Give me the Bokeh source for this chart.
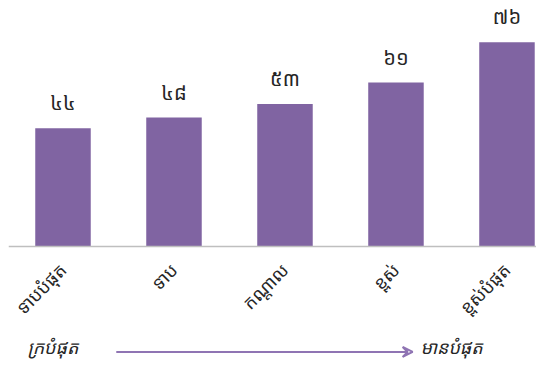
import math
from bokeh.plotting import figure
from bokeh.models import Range1d, FixedTicker, ColumnDataSource, Arrow, VeeHead, Label
from bokeh.core.properties import value
from bokeh.embed import file_html
from bokeh.resources import INLINE

categories = ["ទាបបំផុត", "ទាប", "កណ្តាល", "ខ្ពស់", "ខ្ពស់បំផុត"]
values = [44, 48, 53, 61, 76]
value_labels = ["៤៤", "៤៨", "៥៣", "៦១", "៧៦"]
poorest_label = "ក្របំផុត"
richest_label = "មានបំផុត"

FONT = "Noto Sans Khmer, Khmer OS, Noto Sans, sans-serif"
BAR = "#8064A2"
TXT = "#262626"

xs = list(range(len(categories)))
src = ColumnDataSource(dict(x=xs, top=values, lab=value_labels))

p = figure(width=536, height=359, output_backend="svg", toolbar_location=None,
           x_range=Range1d(-0.491, 4.266), y_range=Range1d(-42.1, 88.6),
           min_border_left=8, min_border_right=0,
           min_border_top=8, min_border_bottom=0)
p.outline_line_color = None
p.xgrid.visible = False
p.ygrid.visible = False
p.yaxis.visible = False

p.vbar(x="x", top="top", bottom=0, width=0.5, source=src,
       fill_color=BAR, line_color=None)

p.text(x="x", y="top", text="lab", source=src, y_offset=-12,
       text_align="center", text_baseline="bottom",
       text_font=value(FONT), text_font_size="20px", text_color=TXT)

ax = p.xaxis[0]
ax.fixed_location = 0
ax.ticker = FixedTicker(ticks=xs)
ax.major_label_overrides = {i: c for i, c in zip(xs, categories)}
ax.major_label_orientation = math.pi / 4
ax.major_tick_line_color = None
ax.minor_tick_line_color = None
ax.major_tick_out = 0
ax.major_label_standoff = 20
ax.axis_line_color = "#BFBFBF"
ax.axis_line_width = 1.5
ax.major_label_text_font = FONT
ax.major_label_text_font_size = "18px"
ax.major_label_text_color = TXT

ARROW_C = "#8F74B3"
p.add_layout(Arrow(x_start=0.48, y_start=-39.3, x_end=3.15, y_end=-39.3,
                   line_color=ARROW_C, line_width=2,
                   end=VeeHead(size=10, line_color=ARROW_C, line_width=2, fill_color=None)))

for xv, t in [(-0.32, poorest_label), (3.22, richest_label)]:
    p.add_layout(Label(x=xv, y=-37.3, text=t, text_align="left", text_baseline="middle",
                       text_font=FONT, text_font_style="italic",
                       text_font_size="18px", text_color=TXT))

open("out.html", "w").write(file_html(p, INLINE))
